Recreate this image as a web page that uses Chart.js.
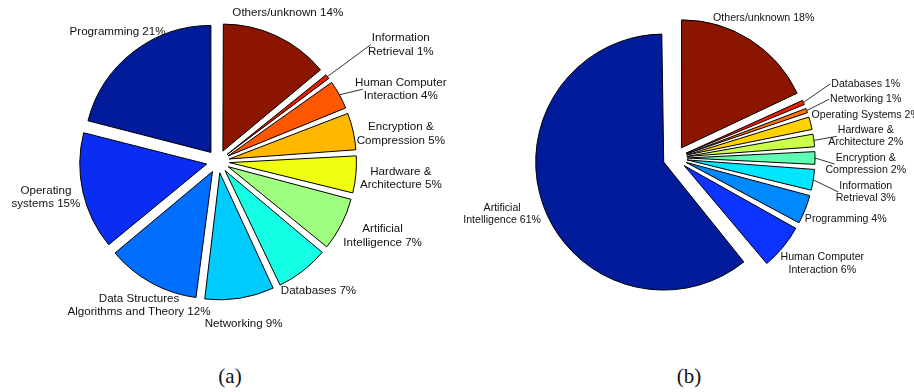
<!DOCTYPE html>
<html lang="en">
<head>
<meta charset="UTF-8">
<title>Research areas</title>
<script src="https://cdn.jsdelivr.net/npm/chart.js@4/dist/chart.umd.min.js"></script>
<style>
  html, body { margin: 0; padding: 0; background: #fff; }
  #page { position: relative; width: 914px; height: 392px; overflow: hidden; }
  canvas { position: absolute; top: 0; }
  .caption { position: absolute; top: 364px; width: 60px; text-align: center;
             font-family: "Liberation Serif", serif; font-size: 21px; color: #111; }
</style>
</head>
<body>
<div id="page">
  <canvas id="pie_a" width="457" height="345" style="left:0"></canvas>
  <canvas id="pie_b" width="457" height="345" style="left:457px"></canvas>
  <div class="caption" style="left:200px">(a)</div>
  <div class="caption" style="left:659px">(b)</div>
</div>

<script>
// (a) all papers, clockwise from 12 o'clock
const areasA = ['Others/unknown', 'Information\nRetrieval', 'Human Computer\nInteraction',
  'Encryption &\nCompression', 'Hardware &\nArchitecture', 'Artificial\nIntelligence',
  'Databases', 'Networking', 'Data Structures\nAlgorithms and Theory', 'Operating\nsystems',
  'Programming'];
const sharesA = [14, 1, 4, 5, 5, 7, 7, 9, 12, 15, 21];

// (b) second breakdown, clockwise from 12 o'clock
const areasB = ['Others/unknown', 'Databases', 'Networking', 'Operating Systems',
  'Hardware &\nArchitecture', 'Encryption &\nCompression', 'Information\nRetrieval',
  'Programming', 'Human Computer\nInteraction', 'Artificial\nIntelligence'];
const sharesB = [18, 1, 1, 2, 2, 2, 3, 4, 6, 61];

const coloursA = ['#8c1500', '#e21d00', '#ff5600', '#ffb700', '#f0fe10', '#9eff80',
  '#14ffe4', '#00cbff', '#006fff', '#0b2cf3', '#021b9a'];
const coloursB = ['#8c1500', '#f02000', '#ff7400', '#ffd200', '#ccff4a', '#5cffb2',
  '#00e6ff', '#0088ff', '#0c33ff', '#021b9a'];

// distance from point (x, y) to the nearest point of a label box
function boxDist(it, x, y) {
  const nx = Math.min(Math.max(x, it.cx - it.w / 2), it.cx + it.w / 2);
  const ny = Math.min(Math.max(y, it.cy - it.h / 2), it.cy + it.h / 2);
  return Math.hypot(nx - x, ny - y);
}

// smallest shift sideways so the whole box sits outside the slice
function clearX(it, R, pad) {
  const top = it.cy - it.h / 2, bottom = it.cy + it.h / 2;
  const dy = (it.ay >= top && it.ay <= bottom) ? 0
    : Math.min(Math.abs(top - it.ay), Math.abs(bottom - it.ay));
  if (dy >= R) return it.cx;
  const chord = Math.sqrt(R * R - dy * dy) + pad;
  if (it.side > 0) return Math.max(it.cx, it.ax + chord + it.w / 2);
  return Math.min(it.cx, it.ax - chord - it.w / 2);
}

function overlapX(a, b) {
  return Math.min(a.cx + a.w / 2, b.cx + b.w / 2) - Math.max(a.cx - a.w / 2, b.cx - b.w / 2);
}

// stack a cluster of labels around the mean of their preferred heights
function spread(cluster, gap) {
  let acc = 0;
  const offs = cluster.map((it, k) => {
    if (k > 0) acc += cluster[k - 1].h / 2 + gap + it.h / 2;
    return acc;
  });
  const shift = cluster.reduce((s, it, k) => s + it.iy - offs[k], 0) / cluster.length;
  cluster.forEach((it, k) => { it.cy = shift + offs[k]; });
}

const sliceLabels = {
  id: 'sliceLabels',

  // ArcElement grows offset slices a little; keep every slice at the set radius
  afterDatasetsUpdate(chart) {
    const R = chart.options.radius;
    chart.getDatasetMeta(0).data.forEach(arc => {
      const off = (arc.options.offset || 0) / 4;
      const fix = 1 - Math.sin(Math.min(Math.PI, arc.circumference));
      arc.outerRadius = R - off * fix;
    });
  },

  afterDraw(chart, args, opts) {
    const ctx = chart.ctx;
    const meta = chart.getDatasetMeta(0);
    const ds = chart.data.datasets[0];
    const R = chart.options.radius;
    const lh = opts.lineHeight;

    ctx.save();
    ctx.font = opts.font;

    const items = meta.data.map((arc, i) => {
      const mid = (arc.startAngle + arc.endAngle) / 2;
      const dx = Math.cos(mid), dy = Math.sin(mid);
      const off = arc.options.offset / 4;
      const ax = arc.x + dx * off, ay = arc.y + dy * off;
      const lines = chart.data.labels[i].split('\n');
      lines[lines.length - 1] += ' ' + ds.data[i] + '%';
      const widths = lines.map(l => ctx.measureText(l).width);
      const it = {
        ax, ay, lines, side: dx >= 0 ? 1 : -1,
        // labels near the top or bottom keep their place
        fixed: Math.abs(dx) < 0.65,
        w: Math.max(...widths), minW: Math.min(...widths), h: lines.length * lh,
        cx: ax + dx * R * 1.2, cy: ay + dy * R * 1.2,
        px: ax + dx * R, py: ay + dy * R
      };
      if (!it.fixed) it.cx = clearX(it, R, opts.pad);
      it.iy = it.cy;
      return it;
    });

    [1, -1].forEach(side => {
      const group = items.filter(it => it.side === side && !it.fixed)
        .sort((a, b) => a.cy - b.cy);
      const clusters = group.map(it => [it]);
      let merged = true;
      while (merged) {
        merged = false;
        for (let k = 0; k + 1 < clusters.length; k++) {
          const last = clusters[k][clusters[k].length - 1], first = clusters[k + 1][0];
          if (overlapX(last, first) > 4 &&
              first.cy - first.h / 2 < last.cy + last.h / 2 + opts.gap - 0.01) {
            clusters.splice(k, 2, clusters[k].concat(clusters[k + 1]));
            spread(clusters[k], opts.gap);
            merged = true;
            break;
          }
        }
      }
      // stacked labels share one column just clear of the pie
      clusters.filter(c => c.length > 1).forEach(c => {
        const xs = c.map(it => clearX(it, R, opts.pad));
        const col = side > 0 ? Math.max(...xs) : Math.min(...xs);
        c.forEach(it => { it.cx = col; it.stacked = true; });
      });
    });

    ctx.fillStyle = opts.color;
    ctx.strokeStyle = '#000';
    ctx.lineWidth = 0.8;
    ctx.textAlign = 'center';
    ctx.textBaseline = 'middle';
    items.forEach(it => {
      if (it.stacked && boxDist(it, it.px, it.py) > opts.leaderMin) {
        ctx.beginPath();
        ctx.moveTo(it.px, it.py);
        ctx.lineTo(it.cx - it.side * (it.minW / 2 + 1), it.cy);
        ctx.stroke();
      }
      it.lines.forEach((l, k) => {
        ctx.fillText(l, it.cx, it.cy + (k - (it.lines.length - 1) / 2) * lh);
      });
    });
    ctx.restore();
  }
};

function makePie(id, areas, shares, colours, cfg) {
  return new Chart(document.getElementById(id), {
    type: 'pie',
    data: {
      labels: areas,
      datasets: [{
        data: shares,
        backgroundColor: colours,
        borderColor: '#000',
        borderWidth: 1,
        borderJoinStyle: 'miter',
        offset: cfg.offset,
        hoverOffset: 0
      }]
    },
    options: {
      responsive: false,
      animation: false,
      events: [],
      radius: cfg.radius,
      layout: { padding: cfg.padding },
      plugins: {
        legend: { display: false },
        tooltip: { enabled: false },
        sliceLabels: {
          font: cfg.fontSize + 'px "Liberation Sans", Arial, sans-serif',
          color: '#111',
          lineHeight: cfg.lineHeight,
          pad: 1,
          gap: cfg.gap,
          leaderMin: 8
        }
      }
    },
    plugins: [sliceLabels]
  });
}

makePie('pie_a', areasA, sharesA, coloursA, {
  radius: 127, offset: 46, padding: { left: 0, top: 0, right: 21, bottom: 22 },
  fontSize: 11.6, lineHeight: 13.3, gap: 18
});
makePie('pie_b', areasB, sharesB, coloursB, {
  radius: 128, offset: 48, padding: { left: 0, top: 0, right: 21, bottom: 29 },
  fontSize: 10.6, lineHeight: 12.4, gap: 3
});
</script>
</body>
</html>
